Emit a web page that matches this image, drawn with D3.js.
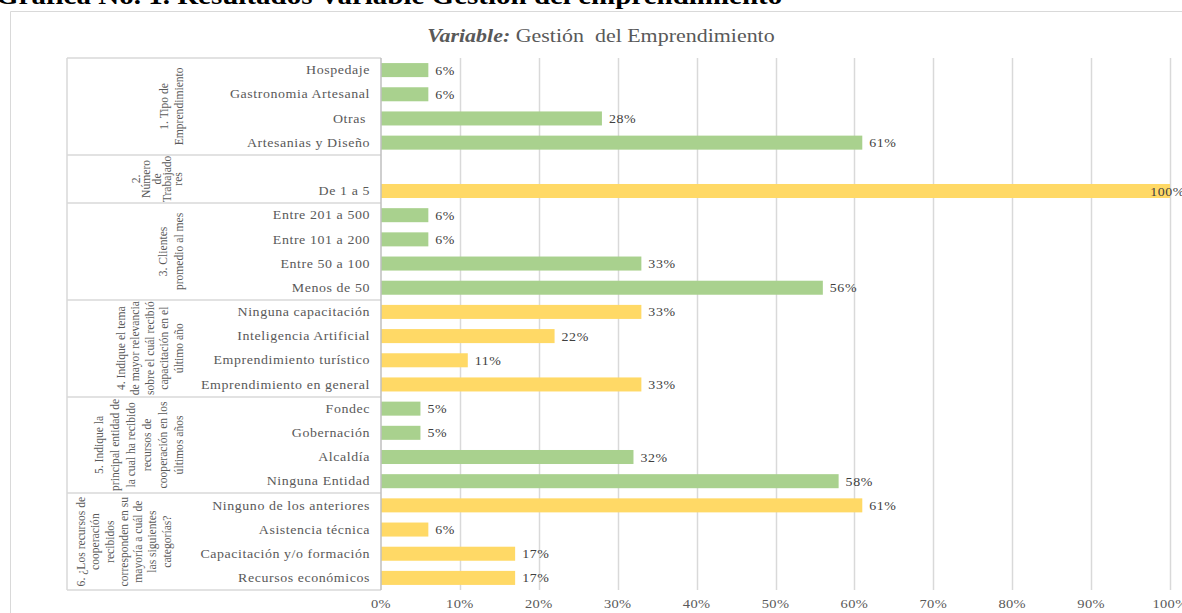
<!DOCTYPE html>
<html>
<head>
<meta charset="utf-8">
<script src="https://cdn.jsdelivr.net/npm/d3@7"></script>
<style>
  body { margin: 0; background: #fff; }
  svg { display: block; }
</style>
</head>
<body>
<div id="chart"></div>
<script>
// ---- data ----
const groupLabels = [
  ["1. Tipo de", "Emprendimiento"],
  ["2.", "Número", "de", "Trabajado", "res"],
  ["3. Clientes", "promedio al mes"],
  ["4. Indique el tema", "de mayor relevancia", "sobre el cuál recibió", "capacitación en el", "último año"],
  ["5. Indique la", "principal entidad de", "la cual ha recibido", "recursos de", "cooperación en los", "últimos años"],
  ["6. ¿Los recursos de", "cooperación", "recibidos", "corresponden en su", "mayoría a cuál de", "las siguientes", "categorías?"]
];
const groupColors = ["#A9D18E", "#FFD966", "#A9D18E", "#FFD966", "#A9D18E", "#FFD966"];
const categories = [
  ["Hospedaje", "Gastronomia Artesanal", "Otras\u00A0", "Artesanias y Diseño"],
  ["", "De 1 a 5"],
  ["Entre 201 a 500", "Entre 101 a 200", "Entre 50 a 100", "Menos de 50"],
  ["Ninguna capacitación", "Inteligencia Artificial", "Emprendimiento turístico", "Emprendimiento en general"],
  ["Fondec", "Gobernación", "Alcaldía", "Ninguna Entidad"],
  ["Ninguno de los anteriores", "Asistencia técnica", "Capacitación y/o formación", "Recursos económicos"]
];
const values = [
  [0.06, 0.06, 0.28, 0.61],
  [null, 1.00],
  [0.06, 0.06, 0.33, 0.56],
  [0.33, 0.22, 0.11, 0.33],
  [0.05, 0.05, 0.32, 0.58],
  [0.61, 0.06, 0.17, 0.17]
];
const xTicks = [0, 0.1, 0.2, 0.3, 0.4, 0.5, 0.6, 0.7, 0.8, 0.9, 1.0];
const chartTitleBold = "Variable:";
const chartTitleRest = " Gestión\u00A0 del Emprendimiento";
const pageHeading = "Gráfica No. 1. Resultados Variable  Gestión del emprendimiento";

// ---- layout ----
const width = 1182, height = 613;
const plotLeft = 381, plotRight = 1170, plotTop = 58, plotBottom = 590;
const tableLeft = 67;
const labelRight = 370;
const stretch = 1.16;   // the picture is a bit wider than tall, text looks stretched
// per group: x of the last label line, gap between lines
const groupLabelPos = [[178, 15], [177, 10.5], [178, 16], [178, 14.5], [178, 16], [166, 14.3]];

const rows = [];
categories.forEach((cats, g) => cats.forEach((c, i) => {
  rows.push({ id: g + "-" + i, group: g, name: c, value: values[g][i] });
}));

const svg = d3.select("#chart").append("svg")
  .attr("width", width).attr("height", height)
  .style("font-family", "'Liberation Serif', 'Times New Roman', serif");

// page heading (cut off at the top)
svg.append("text")
  .attr("transform", `translate(-4,4) scale(${stretch},1)`)
  .attr("font-size", 25).attr("font-weight", "bold")
  .attr("fill", "#000")
  .text(pageHeading);

// chart border
svg.append("path")
  .attr("d", `M10.5,${height} V11.5 H${width}`)
  .attr("fill", "none").attr("stroke", "#D9D9D9");

// chart title
const title = svg.append("text")
  .attr("transform", `translate(601,42) scale(1.22,1)`)
  .attr("text-anchor", "middle")
  .attr("font-size", 18).attr("fill", "#595959");
title.append("tspan").attr("font-weight", "bold").attr("font-style", "italic").text(chartTitleBold);
title.append("tspan").text(chartTitleRest);

const x = d3.scaleLinear().domain([0, 1]).range([plotLeft, plotRight]);
const y = d3.scaleBand().domain(rows.map(d => d.id))
  .range([plotTop, plotBottom]).paddingInner(0.42).paddingOuter(0.21);
const step = y.step();
const rowTop = id => y(id) - (step - y.bandwidth()) / 2;

// gridlines
svg.append("g")
  .selectAll("line")
  .data(xTicks.slice(1))
  .join("line")
  .attr("x1", d => Math.round(x(d)) + 0.5).attr("x2", d => Math.round(x(d)) + 0.5)
  .attr("y1", plotTop).attr("y2", plotBottom)
  .attr("stroke", "#D9D9D9").attr("stroke-width", 1.5);

// x tick labels
svg.append("g")
  .selectAll("text")
  .data(xTicks)
  .join("text")
  .attr("transform", d => `translate(${x(d)},608) scale(${stretch},1)`)
  .attr("text-anchor", "middle")
  .attr("font-size", 12.5).attr("fill", "#595959")
  .attr("letter-spacing", 0.3)
  .text(d3.format(".0%"));

// bars
svg.append("g")
  .selectAll("rect")
  .data(rows.filter(d => d.value != null))
  .join("rect")
  .attr("x", x(0)).attr("y", d => y(d.id))
  .attr("width", d => x(d.value) - x(0))
  .attr("height", y.bandwidth())
  .attr("fill", d => groupColors[d.group]);

// value labels
svg.append("g")
  .selectAll("text")
  .data(rows.filter(d => d.value != null))
  .join("text")
  .attr("dy", "0.38em")
  .attr("font-size", 12).attr("fill", "#404040")
  .attr("letter-spacing", 0.5)
  .text(d => d3.format(".0%")(d.value))
  .attr("transform", function(d) {
    const w = this.getComputedTextLength() * stretch;
    const px = Math.min(x(d.value) + 7, width - w + 3);
    return `translate(${px},${y(d.id) + y.bandwidth() / 2}) scale(${stretch},1)`;
  });

// category labels
svg.append("g")
  .selectAll("text")
  .data(rows)
  .join("text")
  .attr("transform", d => `translate(${labelRight},${y(d.id) + y.bandwidth() / 2}) scale(${stretch},1)`)
  .attr("dy", "0.35em")
  .attr("text-anchor", "end")
  .attr("font-size", 12).attr("fill", "#595959")
  .attr("letter-spacing", 0.5)
  .text(d => d.name);

// table lines
const groupBounds = categories.map((cats, g) => {
  const first = g + "-0", last = g + "-" + (cats.length - 1);
  return { g, top: rowTop(first), bottom: rowTop(last) + step };
});
const table = svg.append("g").attr("stroke", "#D9D9D9").attr("stroke-width", 1.5);
table.selectAll("line.h")
  .data([plotTop, ...groupBounds.map(d => d.bottom)])
  .join("line")
  .attr("x1", tableLeft).attr("x2", plotLeft)
  .attr("y1", d => Math.round(d)).attr("y2", d => Math.round(d));
table.append("line")
  .attr("x1", tableLeft).attr("x2", tableLeft)
  .attr("y1", plotTop).attr("y2", plotBottom);
table.append("line")
  .attr("x1", plotLeft).attr("x2", plotLeft)
  .attr("y1", plotTop).attr("y2", plotBottom)
  .attr("stroke", "#BFBFBF");

// group labels (rotated, text runs condensed along its length)
groupBounds.forEach(b => {
  const lines = groupLabels[b.g];
  const [xLast, gap] = groupLabelPos[b.g];
  const cy = (b.top + b.bottom) / 2;
  svg.append("g")
    .selectAll("text")
    .data(lines)
    .join("text")
    .attr("transform", (d, i) => `translate(${xLast - (lines.length - 1 - i) * gap},${cy}) rotate(-90) scale(0.86,1)`)
    .attr("text-anchor", "middle")
    .attr("dy", "0.35em")
    .attr("font-size", 13.5).attr("fill", "#595959")
    .text(d => d);
});
</script>
</body>
</html>
